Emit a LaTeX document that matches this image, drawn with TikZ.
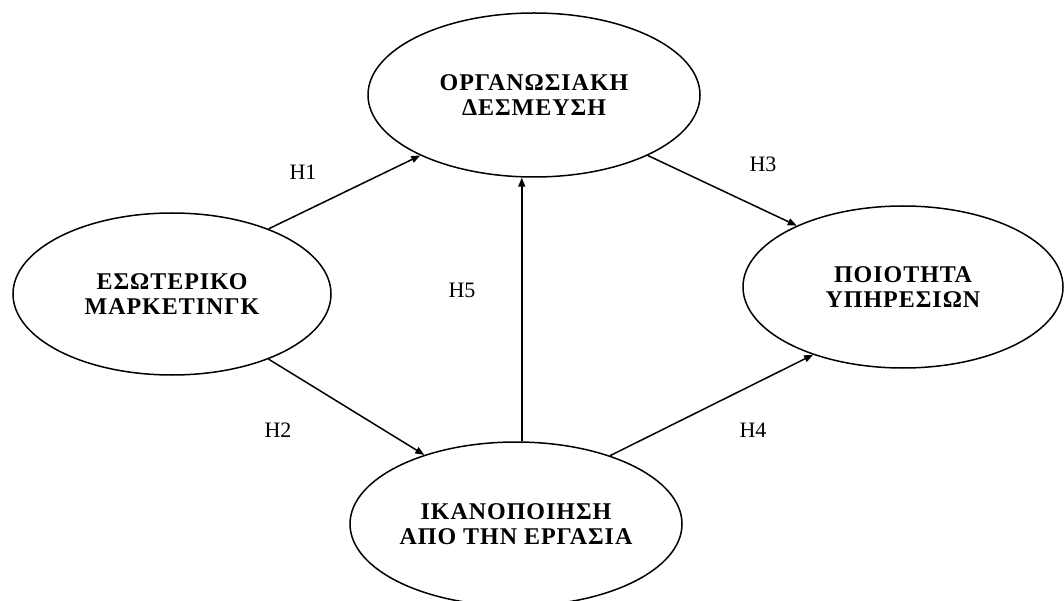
\documentclass[tikz,border=0pt]{standalone}
\usepackage{fontspec}
\setmainfont{Liberation Serif}
\usetikzlibrary{shapes.geometric,arrows.meta}
\tikzset{
  construct/.style={draw, line width=1.5pt, ellipse, inner sep=0pt,
    minimum width=#1, align=center,
    font=\bfseries\fontsize{24}{25.5}\selectfont\addfontfeature{LetterSpace=4}},
  construct/.default=332pt,
  arr/.style={line width=1.5pt, -{Triangle[length=9pt,width=7pt]}},
  hyp/.style={font=\fontsize{22}{24}\selectfont}
}
\begin{document}
\begin{tikzpicture}[x=1pt,y=-1pt]
\useasboundingbox (0,0) rectangle (1064,601);
\fill[white] (0,0) rectangle (1064,601);
\node[construct=332pt, minimum height=164pt] (T) at (534,95) {ΟΡΓΑΝΩΣΙΑΚΗ\\ΔΕΣΜΕΥΣΗ};
\node[construct=318pt, minimum height=162pt] (L) at (172,294) {ΕΣΩΤΕΡΙΚΟ\\ΜΑΡΚΕΤΙΝΓΚ};
\node[construct=320pt, minimum height=162pt] (R) at (903,287) {ΠΟΙΟΤΗΤΑ\\ΥΠΗΡΕΣΙΩΝ};
\node[construct=332pt, minimum height=164pt] (B) at (516,524) {ΙΚΑΝΟΠΟΙΗΣΗ\\ΑΠΟ ΤΗΝ ΕΡΓΑΣΙΑ};
\draw[arr] (L.34.4) -- (T.208);
\draw[arr] (T.332) -- (R.150.5);
\draw[arr] (L.-34) -- (B.143.8);
\draw[arr] (B.36.5) -- (R.217.3);
\draw[arr] (B.86.5) -- (B.86.5 |- T.south);
\node[hyp] (h1) at (303,172) {H1};
\node[hyp] (h2) at (278,430) {H2};
\node[hyp] (h3) at (763,164) {H3};
\node[hyp] (h4) at (753,430) {H4};
\node[hyp] (h5) at (462,290) {H5};
\end{tikzpicture}
\end{document}
